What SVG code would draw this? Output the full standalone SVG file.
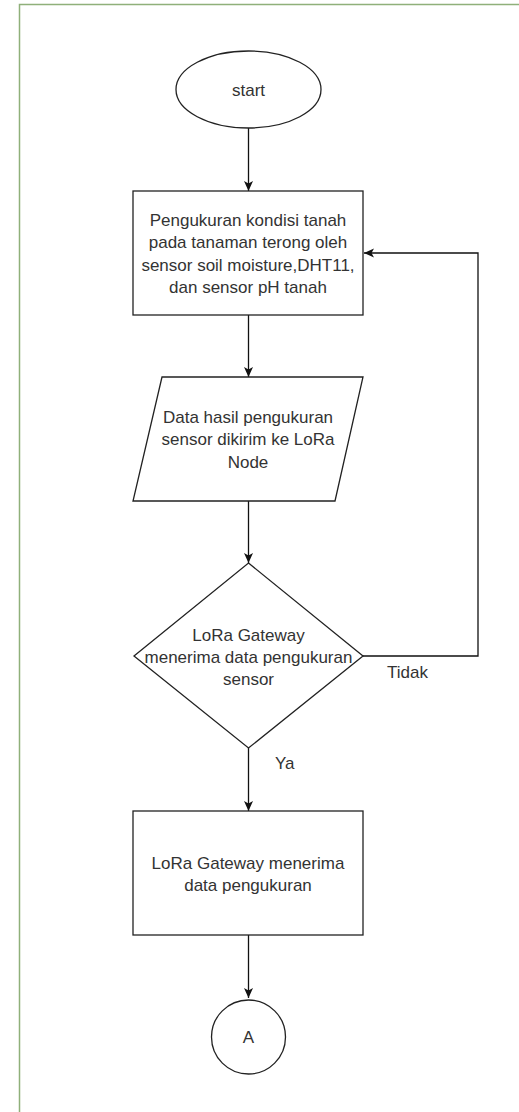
<svg xmlns="http://www.w3.org/2000/svg" width="519" height="1112" viewBox="0 0 519 1112">
<style>
.shape{fill:#fff;stroke:#222;stroke-width:1.3}
.edge{fill:none;stroke:#111;stroke-width:1.3}
.t{font-family:"Liberation Sans",Arial,sans-serif;font-size:17px;fill:#333;text-anchor:middle}
.lbl{font-family:"Liberation Sans",Arial,sans-serif;font-size:17px;fill:#333}
</style>
<defs>
<marker id="arr" viewBox="0 0 10 10" refX="10" refY="5" markerWidth="10" markerHeight="10" markerUnits="userSpaceOnUse" orient="auto">
<path d="M0,0.5 L10,5 L0,9.5 L2.5,5 Z" fill="#111"/>
</marker>
</defs>
<rect x="0" y="0" width="519" height="1112" fill="#fff"/>
<path d="M19.5,1112 V4.5 H519" fill="none" stroke="#8fb07a" stroke-width="1.5"/>
<g id="connectors">
<line class="edge" x1="248.5" y1="128" x2="248.5" y2="191" marker-end="url(#arr)"/>
<line class="edge" x1="248.5" y1="315" x2="248.5" y2="377" marker-end="url(#arr)"/>
<line class="edge" x1="248.5" y1="501" x2="248.5" y2="563" marker-end="url(#arr)"/>
<line class="edge" x1="248.5" y1="748" x2="248.5" y2="811" marker-end="url(#arr)"/>
<line class="edge" x1="248.5" y1="935" x2="248.5" y2="998" marker-end="url(#arr)"/>
<polyline class="edge" points="363,656 478,656 478,253 364,253" marker-end="url(#arr)"/>
<text class="lbl" x="387" y="678">Tidak</text>
<text class="lbl" x="275" y="769">Ya</text>
</g>
<g id="start">
<ellipse class="shape" cx="248.5" cy="89.5" rx="72.5" ry="38.5"/>
<text class="t" x="248.5" y="95.5">start</text>
</g>
<g id="pengukuran">
<rect class="shape" x="133" y="191" width="230" height="124"/>
<text class="t"><tspan x="248" y="226">Pengukuran kondisi tanah</tspan><tspan x="248" y="248">pada tanaman terong oleh</tspan><tspan x="248" y="271">sensor soil moisture,DHT11,</tspan><tspan x="248" y="293">dan sensor pH tanah</tspan></text>
</g>
<g id="data">
<polygon class="shape" points="162,377 363,377 335,501 133,501"/>
<text class="t"><tspan x="248" y="423">Data hasil pengukuran</tspan><tspan x="248" y="445">sensor dikirim ke LoRa</tspan><tspan x="248" y="468">Node</tspan></text>
</g>
<g id="decision">
<polygon class="shape" points="248.5,563 363,656 248.5,748 134,656"/>
<text class="t"><tspan x="248.5" y="641">LoRa Gateway</tspan><tspan x="248.5" y="663">menerima data pengukuran</tspan><tspan x="248.5" y="685">sensor</tspan></text>
</g>
<g id="gateway">
<rect class="shape" x="133" y="811" width="230" height="124"/>
<text class="t"><tspan x="248" y="869">LoRa Gateway menerima</tspan><tspan x="248" y="891">data pengukuran</tspan></text>
</g>
<g id="A">
<circle class="shape" cx="248.5" cy="1037" r="37"/>
<text class="t" x="248.5" y="1043">A</text>
</g>
</svg>
